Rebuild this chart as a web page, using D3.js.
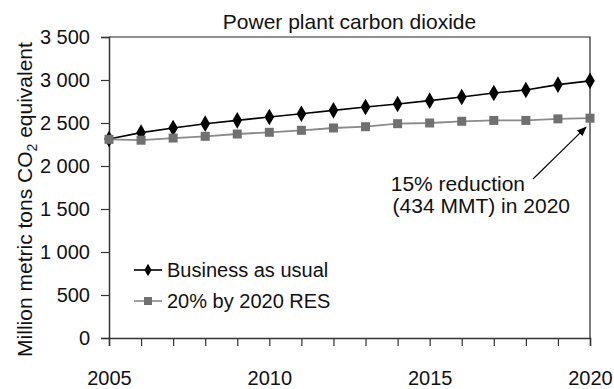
<!DOCTYPE html>
<html><head><meta charset="utf-8">
<script src="https://cdn.jsdelivr.net/npm/d3@7"></script>
<style>
body{margin:0;background:#fff}
text{font-family:"Liberation Sans",Arial,Helvetica,sans-serif;fill:#111}
</style></head>
<body><svg id="c" width="614" height="389"></svg>
<script>
const years = d3.range(2005, 2021);
const businessAsUsual = [2314, 2388, 2442, 2492, 2531, 2570, 2608, 2647, 2686, 2721, 2760, 2802, 2849, 2884, 2946, 2990];
const res20by2020 = [2310, 2300, 2325, 2345, 2372, 2392, 2415, 2442, 2457, 2492, 2500, 2520, 2530, 2530, 2548, 2556];
const yTicks = [0, 500, 1000, 1500, 2000, 2500, 3000, 3500];
const xTickLabels = [2005, 2010, 2015, 2020];
const seriesNames = ["Business as usual", "20% by 2020 RES"];
const title = "Power plant carbon dioxide";
const annotation = ["15% reduction", "(434 MMT) in 2020"];

const svg = d3.select("#c");
const m = {l:109, r:590, t:37, b:338};
const x = d3.scaleLinear().domain([2005, 2020]).range([m.l, m.r]);
const y = d3.scaleLinear().domain([0, 3500]).range([m.b, m.t]);
const fmt = v => v >= 1000 ? d3.format(",")(v).replace(",", " ") : String(v);

// box (top & right)
svg.append("path").attr("d", `M${m.l},${m.t}H${m.r}V${m.b}`).attr("fill","none").attr("stroke","#222").attr("stroke-width",1.2);

// y axis
const ya = svg.append("g").attr("transform",`translate(${m.l},0)`)
  .call(d3.axisLeft(y).tickValues(yTicks).tickSize(8).tickPadding(11).tickFormat(fmt));
ya.select(".domain").attr("stroke","#333").attr("stroke-width",1.5);
ya.selectAll(".tick line").attr("stroke","#333").attr("stroke-width",1.2);
ya.selectAll("text").attr("font-size",20).attr("font-family","Liberation Sans, Arial, sans-serif").attr("fill","#111");

// x axis
const xa = svg.append("g").attr("transform",`translate(0,${m.b})`)
  .call(d3.axisBottom(x).tickValues(years).tickSize(8).tickFormat(d => xTickLabels.includes(d) ? d : ""));
xa.select(".domain").attr("stroke","#333").attr("stroke-width",1.5);
xa.selectAll(".tick line").attr("stroke","#333").attr("stroke-width",1.2);
xa.selectAll("text").attr("font-size",20).attr("font-family","Liberation Sans, Arial, sans-serif").attr("fill","#111").attr("y",33).attr("dy","0.71em");

// title
svg.append("text").attr("x",(m.l+m.r)/2).attr("y",29).attr("text-anchor","middle").attr("font-size",21).text(title);

// y label
const yl = svg.append("text").attr("transform",`translate(32,${(m.t+m.b)/2+12}) rotate(-90)`).attr("text-anchor","middle").attr("font-size",21);
yl.append("tspan").text("Million metric tons CO");
yl.append("tspan").attr("font-size",14).attr("dy",5).text("2");
yl.append("tspan").attr("dy",-5).text(" equivalent");

// lines
const line = d3.line().x((d,i)=>x(years[i])).y(d=>y(d));
svg.append("path").datum(businessAsUsual).attr("d",line).attr("fill","none").attr("stroke","#000").attr("stroke-width",1.6);
svg.append("g").selectAll("path").data(businessAsUsual).join("path")
  .attr("transform",(d,i)=>`translate(${x(years[i])},${y(d)})`)
  .attr("d", d3.symbol().type(d3.symbolDiamond).size(80)).attr("fill","#000");
svg.append("path").datum(res20by2020).attr("d",line).attr("fill","none").attr("stroke","#8a8a8a").attr("stroke-width",1.8);
const sq = 9;
svg.append("g").selectAll("rect").data(res20by2020).join("rect")
  .attr("x",(d,i)=>x(years[i])-sq/2).attr("y",d=>y(d)-sq/2).attr("width",sq).attr("height",sq).attr("fill","#707070");

// legend
const lg = svg.append("g");
[[0,"#000","#000","d"],[1,"#8a8a8a","#707070","s"]].forEach(([i,lc,mc,t])=>{
  const cy = 270 + i*31;
  lg.append("line").attr("x1",134).attr("x2",162).attr("y1",cy).attr("y2",cy).attr("stroke",lc).attr("stroke-width",1.6);
  if (t==="d") lg.append("path").attr("transform",`translate(148,${cy})`).attr("d",d3.symbol().type(d3.symbolDiamond).size(45)).attr("fill",mc);
  else lg.append("rect").attr("x",148-4).attr("y",cy-4).attr("width",8).attr("height",8).attr("fill",mc);
  lg.append("text").attr("x",167).attr("y",cy+7).attr("font-size",20).text(seriesNames[i]);
});

// annotation
svg.append("defs").append("marker").attr("id","ah").attr("viewBox","0 0 10 10").attr("refX",9).attr("refY",5)
  .attr("markerWidth",10).attr("markerHeight",10).attr("markerUnits","userSpaceOnUse").attr("orient","auto")
  .append("path").attr("d","M0,1L10,5L0,9Z").attr("fill","#000");
svg.append("line").attr("x1",533).attr("y1",179).attr("x2",x(2020)-4).attr("y2",y(res20by2020[15])+9)
  .attr("stroke","#000").attr("stroke-width",1.1).attr("marker-end","url(#ah)");
svg.append("text").attr("x",525).attr("y",191).attr("text-anchor","end").attr("font-size",21).text(annotation[0]);
svg.append("text").attr("x",570).attr("y",213).attr("text-anchor","end").attr("font-size",21).text(annotation[1]);
</script></body></html>
